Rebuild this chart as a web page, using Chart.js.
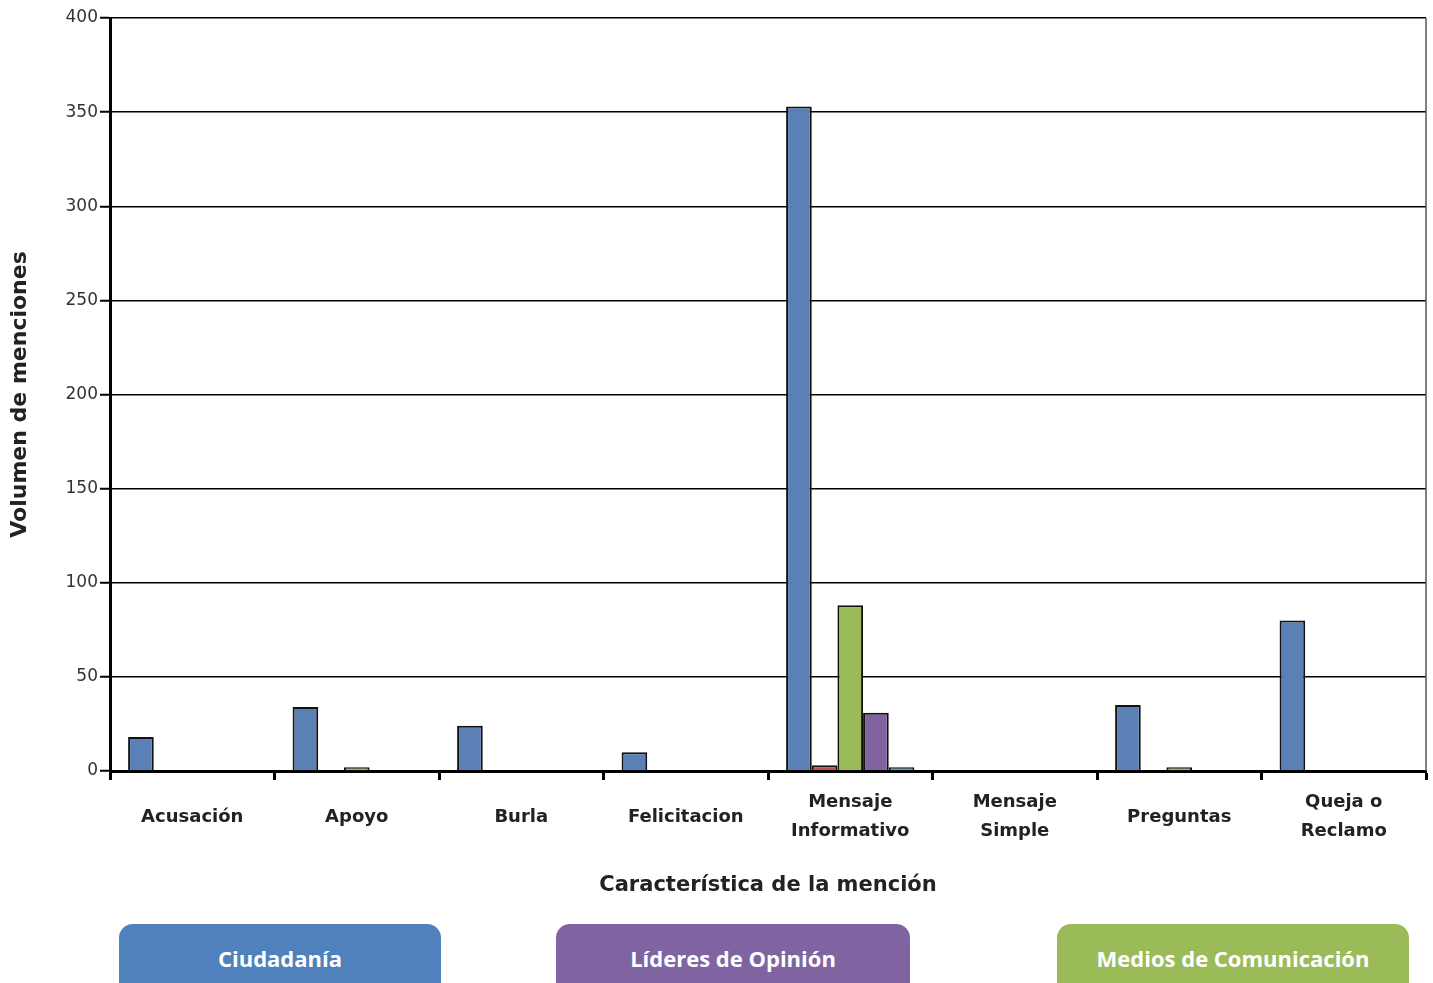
<!DOCTYPE html>
<html>
<head>
<meta charset="utf-8">
<script src="https://cdn.jsdelivr.net/npm/chart.js@4.4.1/dist/chart.umd.min.js"></script>
<style>
  html, body { margin: 0; padding: 0; background: #fff; overflow: hidden; }
  body { width: 1433px; height: 983px; position: relative; }
  #wrap { position: absolute; left: 0; top: 0; width: 1433px; height: 910px; }
  .lg { position: absolute; top: 924px; height: 90px; border-radius: 14px; color: #fff;
        font-family: "Open Sans", sans-serif; font-weight: 700; font-size: 22px;
        text-align: center; line-height: 68px; }
</style>
</head>
<body>
<div id="wrap"><canvas id="c" width="1433" height="910"></canvas></div>
<div class="lg" style="left:119px;width:322px;background:#4F81BD;">Ciudadanía</div>
<div class="lg" style="left:556px;width:354px;background:#8064A2;">Líderes de Opinión</div>
<div class="lg" style="left:1057px;width:352px;background:#9BBB59;">Medios de Comunicación</div>
<script>
const categories = ["Acusación", "Apoyo", "Burla", "Felicitacion", ["Mensaje", "Informativo"], ["Mensaje", "Simple"], "Preguntas", ["Queja o", "Reclamo"]];
const ciudadania = [18, 34, 24, 10, 353, 0, 35, 80];
const serie2 = [0, 0, 0, 0, 3, 0, 0, 0];
const medios = [0, 2, 0, 0, 88, 0, 2, 0];
const lideres = [0, 0, 0, 0, 31, 0, 0, 0];
const serie5 = [0, 0, 0, 0, 2, 0, 0, 0];
const yTicks = [0, 50, 100, 150, 200, 250, 300, 350, 400];

const rightBorder = {
  id: 'rightBorder',
  afterDraw(chart) {
    const a = chart.chartArea, ctx = chart.ctx;
    ctx.save();
    ctx.strokeStyle = '#555';
    ctx.lineWidth = 1.5;
    ctx.beginPath();
    ctx.moveTo(a.right, a.top);
    ctx.lineTo(a.right, a.bottom);
    ctx.stroke();
    ctx.restore();
  }
};

const ds = (label, data, color) => ({
  label, data, backgroundColor: color, borderColor: '#111', borderWidth: 2,
  categoryPercentage: 0.78, barPercentage: 1.0
});

new Chart(document.getElementById('c'), {
  type: 'bar',
  data: {
    labels: categories,
    datasets: [
      ds('Ciudadanía', ciudadania, '#5B80B6'),
      ds('Serie 2', serie2, '#C0504D'),
      ds('Medios de Comunicación', medios, '#9BBB59'),
      ds('Líderes de Opinión', lideres, '#8064A2'),
      ds('Serie 5', serie5, '#4BACC6')
    ]
  },
  options: {
    responsive: false,
    animation: false,
    layout: { padding: { top: 18, right: 7, left: 0, bottom: 0 } },
    plugins: { legend: { display: false }, tooltip: { enabled: false } },
    scales: {
      x: {
        offset: true,
        grid: { offset: true, drawOnChartArea: false, color: '#000', tickLength: 9, tickWidth: 3 },
        border: { color: '#000', width: 3 },
        ticks: { color: '#222', font: { family: 'DejaVu Sans', weight: 'bold', size: 18, lineHeight: 1.65 }, padding: 22, crossAlign: 'center', maxRotation: 0, autoSkip: false },
        title: { display: true, text: 'Característica de la mención', color: '#222', font: { family: 'DejaVu Sans', weight: 'bold', size: 21 }, padding: { top: 4, bottom: 12 } },
        afterFit(s) { s.height = 139; }
      },
      y: {
        min: 0, max: 400,
        afterBuildTicks(s) { s.ticks = yTicks.map(v => ({ value: v })); },
        grid: { color: '#000', lineWidth: 1.5, tickLength: 10, tickWidth: 2 },
        border: { color: '#000', width: 3 },
        ticks: { color: '#333', font: { family: 'DejaVu Sans', size: 17 }, padding: 2 },
        title: { display: true, text: 'Volumen de menciones', color: '#222', font: { family: 'DejaVu Sans', weight: 'bold', size: 22 }, padding: { top: 7, bottom: 0 } },
        afterFit(s) { s.width = 110; }
      }
    }
  },
  plugins: [rightBorder]
});
</script>
</body>
</html>
